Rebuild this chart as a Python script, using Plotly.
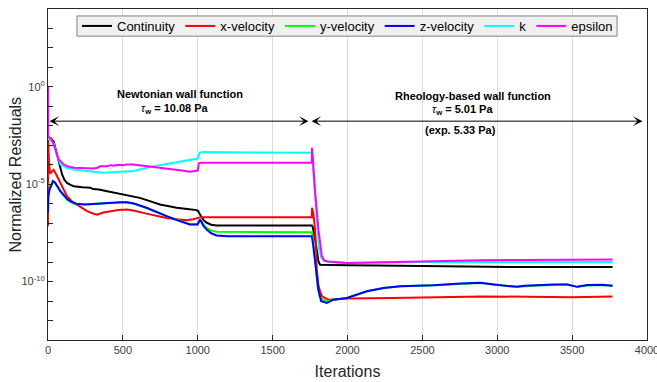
import plotly.graph_objects as go

# Residual histories: iteration numbers and log10 of the normalized residual
continuity_iter = [1, 20, 38, 49, 70, 94, 110, 127, 150, 172, 230, 284, 300, 340, 395, 450, 502, 560, 613,
                   680, 747, 800, 859, 930, 993, 1005, 1015, 1040, 1060, 1090, 1126, 1762, 1768, 1784, 1806,
                   1817, 1900, 2000, 2200, 2500, 2800, 3100, 3400, 3770]
continuity_log = [-2.6, -2.65, -2.8, -3.13, -3.9, -4.5, -4.78, -4.93, -5.03, -5.1, -5.15, -5.18, -5.25, -5.27,
                  -5.36, -5.45, -5.53, -5.6, -5.7, -5.87, -6.04, -6.12, -6.21, -6.27, -6.33, -6.4, -6.56, -6.85,
                  -6.98, -7.08, -7.12, -7.12, -7.2, -7.84, -8.96, -9.13, -9.15, -9.16, -9.18, -9.21, -9.23,
                  -9.25, -9.25, -9.25]

xvel_iter = [0, 2, 6, 14, 25, 38, 55, 83, 105, 127, 160, 194, 230, 261, 300, 328, 370, 417, 470, 528, 580,
             635, 700, 792, 860, 926, 970, 1003, 1020, 1762, 1763, 1772, 1784, 1795, 1806, 1817, 1830, 1873,
             2000, 2300, 2600, 2900, 3200, 3500, 3770]
xvel_log = [-7.16, -2.7, -3.8, -4.45, -4.35, -4.26, -4.5, -4.93, -5.3, -5.61, -5.88, -6.04, -6.22, -6.38,
            -6.5, -6.56, -6.45, -6.38, -6.32, -6.3, -6.36, -6.47, -6.58, -6.73, -6.8, -6.85, -6.8, -6.73,
            -6.69, -6.69, -6.21, -6.5, -7.33, -9.38, -10.2, -10.5, -10.76, -10.93, -10.87, -10.84, -10.8,
            -10.76, -10.78, -10.8, -10.76]

yvel_iter = [0, 6, 14, 33, 50, 83, 127, 172, 240, 324, 420, 502, 580, 658, 792, 948, 999, 1015, 1040, 1060,
             1090, 1126, 1762, 1770, 1784, 1800, 1815, 1840, 1870, 1906, 1996, 2130, 2241, 2353, 2575, 2754,
             2888, 2977, 3133, 3244, 3378, 3467, 3534, 3650, 3770]
yvel_log = [-5.1, -4.95, -5.15, -4.86, -4.95, -5.38, -5.8, -6.0, -6.04, -6.0, -5.95, -5.93, -6.0, -6.22,
            -6.64, -7.05, -7.05, -6.8, -7.1, -7.25, -7.38, -7.44, -7.46, -7.8, -8.9, -10.3, -10.8, -10.95,
            -11.0, -10.93, -10.84, -10.5, -10.33, -10.24, -10.19, -10.1, -10.07, -10.15, -10.27, -10.21,
            -10.17, -10.15, -10.27, -10.17, -10.21]

zvel_iter = [0, 3, 10, 20, 33, 45, 60, 83, 105, 127, 150, 172, 190, 250, 324, 420, 484, 530, 573, 658, 720,
             792, 870, 948, 999, 1015, 1040, 1060, 1090, 1126, 1200, 1762, 1772, 1784, 1806, 1824, 1862, 1906,
             1996, 2130, 2241, 2353, 2575, 2754, 2843, 2888, 2977, 3060, 3133, 3180, 3244, 3300, 3378, 3467,
             3534, 3600, 3700, 3770]
zvel_log = [-6.47, -5.6, -5.3, -5.1, -4.84, -4.9, -5.1, -5.36, -5.55, -5.75, -5.88, -5.97, -6.0, -6.04,
            -6.0, -5.95, -5.92, -5.93, -5.99, -6.21, -6.42, -6.64, -6.87, -7.07, -7.07, -6.81, -7.15, -7.33,
            -7.52, -7.63, -7.67, -7.67, -8.2, -9.04, -10.41, -11.01, -11.1, -10.93, -10.84, -10.5, -10.33,
            -10.24, -10.19, -10.1, -10.07, -10.06, -10.15, -10.2, -10.27, -10.22, -10.21, -10.17, -10.15,
            -10.15, -10.27, -10.18, -10.16, -10.21]

k_iter = [3, 15, 38, 55, 83, 123, 172, 250, 306, 368, 513, 573, 680, 735, 850, 981, 1000, 1012, 1030, 1762,
          1768, 1780, 1795, 1810, 1825, 1840, 1870, 2000, 2500, 3000, 3500, 3770]
k_log = [-2.6, -2.75, -2.9, -3.4, -3.98, -4.15, -4.24, -4.33, -4.36, -4.41, -4.37, -4.32, -4.12, -4.05,
         -3.9, -3.7, -3.68, -3.4, -3.35, -3.38, -4.0, -5.6, -7.2, -8.3, -8.78, -8.9, -9.0, -9.04, -9.0, -8.98,
         -8.99, -8.99]

eps_iter = [0, 1, 2, 10, 25, 40, 55, 72, 100, 130, 172, 240, 306, 330, 350, 392, 420, 440, 470, 500, 530,
            567, 640, 720, 800, 881, 948, 985, 1000, 1008, 1020, 1762, 1763, 1768, 1784, 1806, 1829, 1845,
            1870, 2000, 2300, 2600, 2888, 3200, 3500, 3770]
eps_log = [0.0, -0.3, -2.55, -2.6, -2.7, -3.0, -3.4, -3.73, -3.95, -4.08, -4.15, -4.18, -4.19, -4.15, -4.08,
           -4.07, -4.02, -4.05, -4.0, -4.03, -3.98, -3.99, -4.05, -4.15, -4.22, -4.28, -4.36, -4.34, -4.3,
           -3.92, -3.9, -3.9, -3.13, -3.6, -5.42, -7.33, -8.7, -8.92, -8.97, -9.04, -8.98, -8.93, -8.9,
           -8.89, -8.88, -8.87]

series = [
    ("Continuity", continuity_iter, continuity_log, "#000000"),
    ("x-velocity", xvel_iter, xvel_log, "#ff0000"),
    ("y-velocity", yvel_iter, yvel_log, "#00ff00"),
    ("z-velocity", zvel_iter, zvel_log, "#0000ff"),
    ("k", k_iter, k_log, "#00ffff"),
    ("epsilon", eps_iter, eps_log, "#ff00ff"),
]

# Axis ticks
x_ticks = [0, 500, 1000, 1500, 2000, 2500, 3000, 3500, 4000]
y_major = [0, -5, -10]
y_major_text = ["10<sup>0</sup>", "10<sup>-5</sup>", "10<sup>-10</sup>"]
y_decades = list(range(-13, 5))

# Wall-function regions
split_iter = 1745
arrow_log = -1.76

fig = go.Figure()
for name, it, lg, color in series:
    fig.add_trace(go.Scatter(
        x=it, y=[10 ** v for v in lg], mode="lines", name=name,
        line=dict(color=color, width=2),
    ))

axis_color = "#262626"
fig.update_layout(
    width=657, height=382,
    margin=dict(l=48, r=10, t=9, b=42),
    paper_bgcolor="white", plot_bgcolor="white",
    font=dict(family="Liberation Sans, Arial, sans-serif", color=axis_color, size=11),
    showlegend=True,
    legend=dict(
        orientation="h", x=0.5, xanchor="center", y=0.994, yanchor="top",
        bgcolor="rgba(0,0,0,0)", borderwidth=0,
        font=dict(size=13, color="#000000"),
        itemwidth=30,
    ),
    xaxis=dict(
        range=[0, 4000], tickvals=x_ticks, ticks="inside", ticklen=5, tickcolor=axis_color,
        ticklabeloverflow="allow", automargin=False,
        showgrid=True, gridcolor="#dcdcdc", gridwidth=1, zeroline=False,
        showline=True, linecolor=axis_color, linewidth=1, mirror=True,
        title=dict(text="Iterations", font=dict(size=16, color=axis_color), standoff=10),
        tickfont=dict(size=11, color="#404040"),
    ),
    yaxis=dict(
        type="log", range=[-13, 4], automargin=False,
        tickvals=[10 ** d for d in y_major], ticktext=y_major_text,
        ticks="inside", ticklen=5, tickcolor=axis_color,
        minor=dict(tickvals=[10 ** d for d in y_decades], ticks="inside", ticklen=5,
                   tickcolor=axis_color, showgrid=False),
        showgrid=False, zeroline=False,
        showline=True, linecolor=axis_color, linewidth=1, mirror=True,
        tickfont=dict(size=11, color="#404040"),
    ),
)

# Legend frame
fig.add_shape(type="rect", xref="paper", yref="paper", x0=0.0484, x1=0.950, y0=0.918, y1=0.979,
              fillcolor="#f0f0f0", line=dict(color="#808080", width=1), layer="above")

# Vertical axis title
fig.add_annotation(x=0, y=0.5, xref="paper", yref="paper", xshift=-33, textangle=-90,
                   text="Normalized Residuals", showarrow=False, xanchor="center", yanchor="middle",
                   font=dict(size=16, color=axis_color))

# Double-headed arrows spanning each wall-function phase
for x0, x1 in [(0, split_iter - 5), (split_iter + 5, 3970)]:
    fig.add_annotation(
        x=x1, y=arrow_log, ax=x0, ay=arrow_log, xref="x", yref="y", axref="x", ayref="y",
        showarrow=True, arrowhead=3, startarrowhead=3, arrowside="end+start",
        arrowsize=1.6, startarrowsize=1.6, arrowwidth=1, arrowcolor="#000000", text="",
    )

labels = [
    (882, -0.36, "<b>Newtonian wall function</b>"),
    (849, -1.16, "<i>τ</i><sub><b>w</b></sub><b> = 10.08 Pa</b>"),
    (2837, -0.46, "<b>Rheology-based wall function</b>"),
    (2767, -1.21, "<i>τ</i><sub><b>w</b></sub><b> = 5.01 Pa</b>"),
    (2754, -2.22, "<b>(exp. 5.33 Pa)</b>"),
]
for x, y, txt in labels:
    fig.add_annotation(x=x, y=y, xref="x", yref="y", text=txt, showarrow=False,
                       xanchor="center", yanchor="middle",
                       font=dict(size=11, color="#000000"))

fig.write_html("out.html")
